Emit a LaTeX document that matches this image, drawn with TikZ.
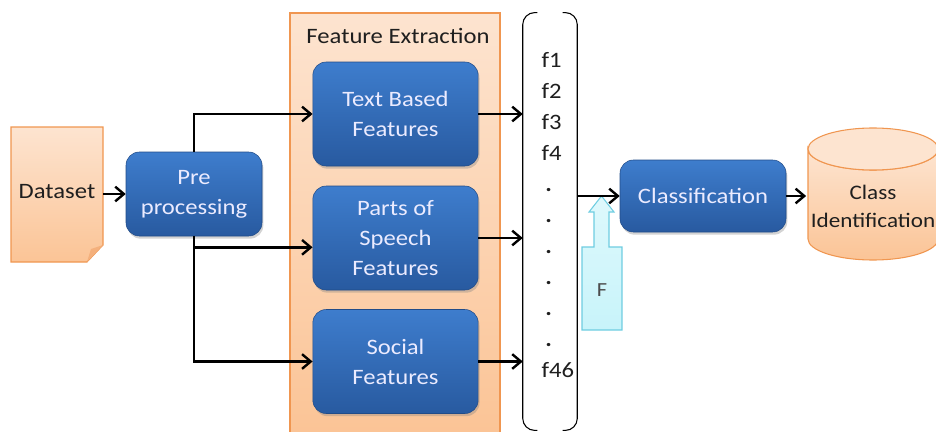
\documentclass[tikz,border=0pt]{standalone}
\usepackage{fontspec}
\setmainfont{Carlito}[FakeStretch=1.12]
\usetikzlibrary{arrows.meta,positioning,shadows}

\definecolor{boxtop}{RGB}{62,125,205}
\definecolor{boxbot}{RGB}{40,90,160}
\definecolor{peachtop}{RGB}{253,228,208}
\definecolor{peachbot}{RGB}{251,196,150}
\definecolor{peachline}{RGB}{240,150,80}
\definecolor{cyanfill}{RGB}{200,244,250}
\definecolor{cyanline}{RGB}{110,205,225}

\begin{document}
\begin{tikzpicture}[x=0.75pt, y=-0.75pt,
			bluebox/.style={rectangle, rounded corners=10pt, top color=boxtop, bottom color=boxbot, draw=boxbot!85!black, thin,
				text=white!92!blue, align=center, font=\fontsize{16.5}{22.5}\selectfont,
				drop shadow={opacity=0.35, shadow xshift=1pt, shadow yshift=-2pt}},
			peach/.style={top color=peachtop, bottom color=peachbot, draw=peachline, thick},
			flow/.style={line width=1.8pt, -{Straight Barb[length=6.5pt, width=11pt, line width=1.8pt]}},
			label/.style={font=\fontsize{16.5}{22.5}\selectfont, text=black!88, align=center}
		]
		\useasboundingbox (0,0) rectangle (936,432);

		% Input document with folded corner
		\path[peach] (11,127) -- (103,127) -- (103,245) -- (87,262) -- (11,262) -- cycle;
		\fill[peachline!75] (87,262) -- (91,249) -- (103,245) -- cycle;
		\node[label, minimum width=69pt, minimum height=101pt] (dataset) at (57,192) {Dataset};

		\node[bluebox, minimum width=102pt, minimum height=63pt] (prep) at (194,194) {Pre\\processing};

		% Feature extraction block
		\path[peach] (290,433) -- (290,13) -- (500,13) -- (500,433);
		\node[label] (fetitle) at (398,36) {Feature Extraction};
		\node[bluebox, minimum width=124pt, minimum height=78pt] (textf) at (395.5,114) {Text Based\\Features};
		\node[bluebox, minimum width=124pt, minimum height=78pt] (posf) at (395.5,238) {Parts of\\Speech\\Features};
		\node[bluebox, minimum width=124pt, minimum height=78pt] (socialf) at (395.5,361.5) {Social\\Features};

		% Feature vector
		\node[minimum width=40.5pt, minimum height=313pt] (fvec) at (550,221.5) {};
		\draw[thick, rounded corners=9pt] ([xshift=11pt]fvec.north west) -- (fvec.north west) -- (fvec.south west) -- ([xshift=11pt]fvec.south west);
		\draw[thick, rounded corners=9pt] ([xshift=-11pt]fvec.north east) -- (fvec.north east) -- (fvec.south east) -- ([xshift=-11pt]fvec.south east);
		\node[label, align=left, anchor=west, font=\fontsize{16.5}{23.25}\selectfont] (feats) at (537,215)
			{f1\\f2\\f3\\f4\\\,\textbf{.}\\\,\textbf{.}\\\,\textbf{.}\\\,\textbf{.}\\\,\textbf{.}\\\,\textbf{.}\\f46};

		\node[bluebox, minimum width=124.5pt, minimum height=54pt] (classif) at (703,196) {Classification};

		% Output store
		\path[peach] (808,149) -- (808,239) arc(180:0:65 and 21) -- (938,149) arc(0:180:65 and 21) -- cycle;
		\draw[peachline, thick, fill=peachtop] (873,149) ellipse (65 and 21);
		\node[label, minimum width=97.5pt, font=\fontsize{15.5}{21}\selectfont] (classid) at (873,206) {Class\\Identification};

		% Feature set arrow
		\draw[cyanline, thick, top color=cyanfill!60!white, bottom color=cyanfill] (582,330) -- (582,247) -- (594,247) -- (594,212) -- (589,212) -- (601.5,196) -- (614,212) -- (609,212) -- (609,247) -- (622,247) -- (622,330) -- cycle;
		\node[font=\fontsize{15}{18}\selectfont, text=black!70] (fbox) at (602,290) {F};

		% Connections
		\draw[flow] (dataset.east |- prep.west) -- (prep.west);
		\draw[flow] (prep.north) |- (textf.west);
		\draw[flow] (prep.south) |- (socialf.west);
		\coordinate (posin) at ([yshift=-7pt]posf.west);
		\draw[flow] (prep.south |- posin) -- (posin);
		\draw[flow] (textf.east) -- (textf.east -| fvec.west);
		\draw[flow] (posf.east) -- (posf.east -| fvec.west);
		\draw[flow] (socialf.east) -- (socialf.east -| fvec.west);
		\draw[flow] (classif.west -| fvec.east) -- (classif.west);
		\draw[flow] (classif.east) -- (classif.east -| classid.west);
	\end{tikzpicture}
\end{document}
